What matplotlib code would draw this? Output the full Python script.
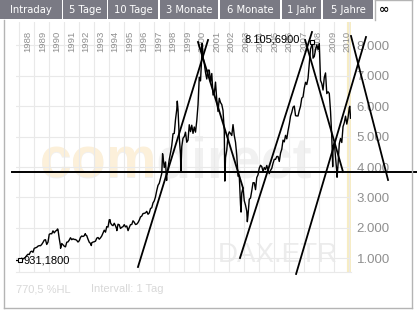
import matplotlib.pyplot as plt
import numpy as np
from matplotlib.patches import Rectangle
from matplotlib.lines import Line2D

plt.rcParams['font.family'] = ['Liberation Sans', 'DejaVu Sans']

# DAX monthly closes, Jan 1988 .. Jan 2010
month_close = [
    951, 1003, 977, 1003, 1032, 1093, 1134, 1124, 1213, 1233, 1198, 1328,      # 1988
    1343, 1361, 1400, 1417, 1413, 1458, 1521, 1598, 1611, 1455, 1531, 1790,    # 1989
    1810, 1806, 1903, 1836, 1893, 1921, 1941, 1649, 1404, 1487, 1444, 1398,    # 1990
    1377, 1528, 1540, 1599, 1676, 1612, 1641, 1620, 1617, 1589, 1535, 1578,    # 1991
    1689, 1733, 1717, 1742, 1779, 1743, 1628, 1528, 1489, 1512, 1533, 1545,    # 1992
    1564, 1662, 1684, 1628, 1674, 1734, 1828, 1926, 1860, 2042, 2026, 2267,    # 1993
    2166, 2099, 2073, 2153, 2068, 1959, 2120, 2103, 1981, 2019, 2040, 2107,    # 1994
    2033, 2063, 1912, 2012, 2107, 2111, 2234, 2186, 2111, 2124, 2174, 2254,    # 1995
    2361, 2388, 2472, 2479, 2495, 2544, 2448, 2491, 2637, 2664, 2822, 2889,    # 1996
    3025, 3230, 3400, 3466, 3625, 3790, 4339, 3986, 4168, 3715, 3953, 4250,    # 1997
    4465, 4710, 5096, 5107, 5566, 5897, 5896, 4972, 4424, 4671, 4952, 5002,    # 1998
    5148, 4817, 4884, 5393, 5167, 5378, 5109, 5319, 5150, 5525, 6044, 6958,    # 1999
    6836, 7645, 7599, 7414, 7109, 6898, 7191, 7188, 6799, 7078, 6372, 6434,    # 2000
    6795, 6208, 5830, 6265, 6124, 6058, 5862, 5189, 4309, 4560, 5040, 5160,    # 2001
    5107, 5039, 5397, 5041, 4818, 4383, 3701, 3712, 2769, 3153, 3320, 2893,    # 2002
    2748, 2547, 2424, 2942, 2983, 3221, 3487, 3485, 3257, 3655, 3746, 3965,    # 2003
    4058, 4018, 3857, 3985, 3921, 4053, 3896, 3785, 3893, 3960, 4126, 4256,    # 2004
    4254, 4350, 4349, 4185, 4461, 4587, 4887, 4830, 5044, 4929, 5193, 5408,    # 2005
    5674, 5797, 5970, 6009, 5693, 5683, 5682, 5859, 6004, 6269, 6309, 6597,    # 2006
    6789, 6716, 6917, 7409, 7883, 8007, 7584, 7638, 7862, 8020, 7871, 8067,    # 2007
    6852, 6748, 6535, 6949, 7097, 6418, 6479, 6422, 5831, 4988, 4669, 4810,    # 2008
    4339, 3844, 4085, 4770, 4941, 4809, 5332, 5458, 5675, 5415, 5625, 5957,    # 2009
    5608,                                                                      # 2010
]

# swing highs / lows between month ends (decimal year, close)
swing_dates = [1988.02, 1990.55, 1990.75, 1992.40, 1992.80, 1994.05, 1994.50,
               1995.25, 1997.55, 1997.82, 1998.53, 1998.77, 2000.18, 2001.70,
               2002.78, 2003.20, 2007.54, 2008.89, 2009.18, 2010.03]
swing_values = [931.18, 1966, 1330, 1810, 1420, 2270, 1910,
                1910, 4440, 3560, 6170, 3850, 8065, 3540,
                2520, 2203, 8105.69, 4014, 3666, 6000]

# hand drawn trend lines: (year0, value0, year1, value1)
trend_lines = [
    (1995.91, 714, 2000.58, 8181),
    (1999.91, 8115, 2002.91, 3313),
    (2002.71, 1010, 2007.51, 8444),
    (2006.45, 484, 2011.11, 8280),
    (2010.11, 8313, 2012.58, 3576),
    (2007.05, 8181, 2009.58, 3839),
]
support_level = 3838
support_span = (1987.51, 2014.51)

years = list(range(1988, 2011))
price_ticks = [1000, 2000, 3000, 4000, 5000, 6000, 7000, 8000]
tab_labels = ['Intraday', '5 Tage', '10 Tage', '3 Monate', '6 Monate', '1 Jahr', '5 Jahre']
tab_edges = [(0, 62), (63, 107), (108, 158), (160, 218), (220, 280), (282, 321), (323, 373)]

W, H = 417, 312


def fx(x):
    return x / W


def fy(y):
    return 1 - y / H


fig = plt.figure(figsize=(W / 100, H / 100), dpi=100)
fig.patch.set_facecolor('white')

# outer frame and tab bar
frame_col = '#b4b4b4'
for xs, ys in [((4, 4), (20, 308)), ((4, 412), (308, 308)), ((412, 412), (0, 308)),
               ((375, 412), (0, 0)), ((375, 375), (0, 20))]:
    fig.add_artist(Line2D([fx(v) for v in xs], [fy(v) for v in ys], color=frame_col, lw=1))
for (x0, x1), lab in zip(tab_edges, tab_labels):
    fig.add_artist(Rectangle((fx(x0), fy(19)), fx(x1 - x0), 19 / H,
                             transform=fig.transFigure, color='#7a7a84', lw=0))
    fig.text(fx((x0 + x1) / 2), fy(10), lab, color='white', fontsize=7.2,
             family='DejaVu Sans', ha='center', va='center')
fig.text(fx(384), fy(10), '\u221e', color='black', fontsize=9, fontweight='bold',
         family='DejaVu Sans', ha='center', va='center')

ax = fig.add_axes([fx(16), fy(272), fx(351 - 16), (272 - 22) / H])
ax.set_facecolor('none')
ax.set_xlim(1987.78, 2010.11)
ax.set_ylim(549, 8773)

# watermark
wm = dict(transform=fig.transFigure, fontsize=41, fontweight='bold', zorder=0,
          ha='left', va='baseline')
ax.text(fx(40), fy(178), 'comdirect', color='#f1f1f1', **wm)
ax.text(fx(40), fy(178), 'com', color='#fcf0da', **wm)
ax.text(fx(218), fy(262), 'DAX.ETR', color='#ececec', fontsize=20,
        transform=fig.transFigure, zorder=0, va='baseline')

# grid
ax.set_xticks(years)
ax.set_yticks(price_ticks)
ax.grid(True, color='#e9e9e9', lw=0.8, zorder=1)
ax.axvline(2010, color='#f7edc4', lw=3, zorder=1)
for s in ['top', 'left', 'right']:
    ax.spines[s].set_visible(False)
ax.spines['bottom'].set_color('#e9e9e9')
ax.tick_params(length=0)
ax.set_xticklabels([])
ax.yaxis.tick_right()
ax.set_yticklabels([f'{v // 1000}.000' for v in price_ticks], color='#8f8f8f', fontsize=9.5)
ax.tick_params(axis='y', pad=4)

label_x = np.linspace(1988.58, 2009.85, len(years))
for lx, yr in zip(label_x, years):
    ax.text(lx, 0.966, str(yr), transform=ax.get_xaxis_transform(), rotation=90,
            ha='center', va='top', fontsize=6.8, color='#8e8e8e', zorder=2)

# price series
dates = 1988 + (np.arange(len(month_close)) + 0.95) / 12
all_d = np.concatenate([dates, swing_dates])
all_v = np.concatenate([month_close, swing_values])
order = np.argsort(all_d)
all_d, all_v = all_d[order], all_v[order]
ax.plot(all_d, all_v, color='black', lw=1.0, zorder=3)

# low / high markers
i_min, i_max = np.argmin(all_v), np.argmax(all_v)
ax.plot([1987.78, all_d[i_min]], [all_v[i_min]] * 2, color='black', lw=0.9, zorder=3)
ax.plot(all_d[i_min], all_v[i_min], marker='s', ms=3, mfc='white', mec='black', mew=0.8, zorder=4)
ax.annotate('931,1800', (all_d[i_min], all_v[i_min]), xytext=(3, 0),
            textcoords='offset points', va='center', fontsize=8, zorder=5)
ax.plot(all_d[i_max], all_v[i_max], marker='s', ms=3, mfc='white', mec='black', mew=0.8, zorder=4)
ax.annotate('8.105,6900', (all_d[i_max], all_v[i_max]), xytext=(-9, 2),
            textcoords='offset points', ha='right', va='center', fontsize=8, zorder=5)

# trend lines and support
for x0, y0, x1, y1 in trend_lines:
    ax.plot([x0, x1], [y0, y1], color='black', lw=1.3, clip_on=False, zorder=6)
ax.plot(support_span, [support_level] * 2, color='black', lw=1.4, clip_on=False, zorder=6)

# footer
fig.text(fx(16), fy(289), '770,5 %HL', color='#d8d8d8', fontsize=8, va='center')
fig.text(fx(91), fy(289), 'Intervall: 1 Tag', color='#d8d8d8', fontsize=8, va='center')

fig.savefig('out.png', dpi=100)
